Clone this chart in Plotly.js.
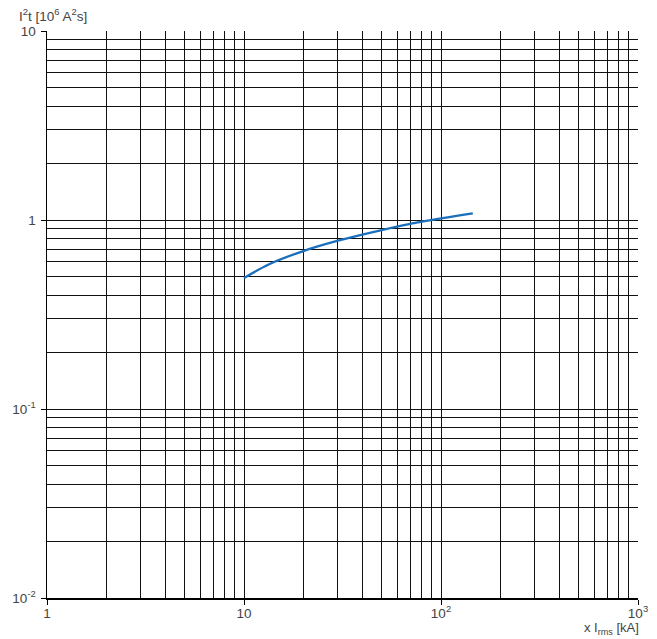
<!DOCTYPE html>
<html>
<head>
<meta charset="utf-8">
<script src="https://cdn.plot.ly/plotly-3.0.1.min.js"></script>
<style>html,body{margin:0;padding:0;background:#fff;}#chart{width:657px;height:639px;}</style>
</head>
<body>
<div id="chart"></div>
<script>
// Data
const currentKA = [10, 13.5, 20, 30, 50, 80, 145];
const i2t = [0.493, 0.585, 0.685, 0.777, 0.885, 0.98, 1.085];

const xMajorVals = [1, 10, 100, 1000];
const xMajorText = ['1', '10', '10<sup>2</sup>', '10<sup>3</sup>'];
const yMajorVals = [0.01, 0.1, 1, 10];
const yMajorText = ['10<sup>-2</sup>', '10<sup>-1</sup>', '1', '10'];
const digits = [2, 3, 4, 5, 6, 7, 8, 9];

function minorVals(decades) {
  const out = [];
  decades.forEach(d => digits.forEach(k => out.push(d * k)));
  return out;
}
const xMinor = minorVals([1, 10, 100]);
const yMinor = minorVals([0.01, 0.1, 1]);

const tickFont = {family: 'Liberation Sans, Arial, sans-serif', size: 13.5, color: '#444'};
const titleFont = {family: 'Liberation Sans, Arial, sans-serif', size: 13, color: '#444'};

const trace = {
  x: currentKA, y: i2t, type: 'scatter', mode: 'lines',
  line: {color: '#1a6fbd', width: 2.3, shape: 'spline', smoothing: 1},
  hoverinfo: 'skip'
};

const axisCommon = {
  type: 'log', tickmode: 'array', ticks: 'outside', ticklen: 5, tickwidth: 1, tickcolor: '#000',
  showgrid: true, gridcolor: '#111', gridwidth: 1,
  showline: true, linecolor: '#000', linewidth: 1.5, mirror: false,
  zeroline: false, tickfont: tickFont, fixedrange: true
};

const layout = {
  width: 657, height: 639,
  margin: {l: 47, r: 19, t: 31, b: 41},
  paper_bgcolor: '#fff', plot_bgcolor: '#fff',
  showlegend: false,
  xaxis: Object.assign({}, axisCommon, {
    range: [0, 3], tickvals: xMajorVals, ticktext: xMajorText, ticklabelstandoff: -3,
    minor: {tickmode: 'array', tickvals: xMinor, ticks: '', showgrid: true, gridcolor: '#111', gridwidth: 1}
  }),
  yaxis: Object.assign({}, axisCommon, {
    range: [-2, 1], tickvals: yMajorVals, ticktext: yMajorText, ticklabelstandoff: 2,
    minor: {tickmode: 'array', tickvals: yMinor, ticks: '', showgrid: true, gridcolor: '#111', gridwidth: 1}
  }),
  annotations: [
    {text: 'I<sup>2</sup>t [10<sup>6</sup> A<sup>2</sup>s]', xref: 'paper', yref: 'paper', x: 0, y: 1,
     xshift: -30, yshift: 5, xanchor: 'left', yanchor: 'bottom', showarrow: false, font: tickFont},
    {text: 'x I<sub>rms</sub> [kA]', xref: 'paper', yref: 'paper', x: 1, y: 0,
     xshift: 3, yshift: -41, xanchor: 'right', yanchor: 'bottom', showarrow: false, font: titleFont}
  ]
};

Plotly.newPlot('chart', [trace], layout, {staticPlot: true, displayModeBar: false});
</script>
</body>
</html>
